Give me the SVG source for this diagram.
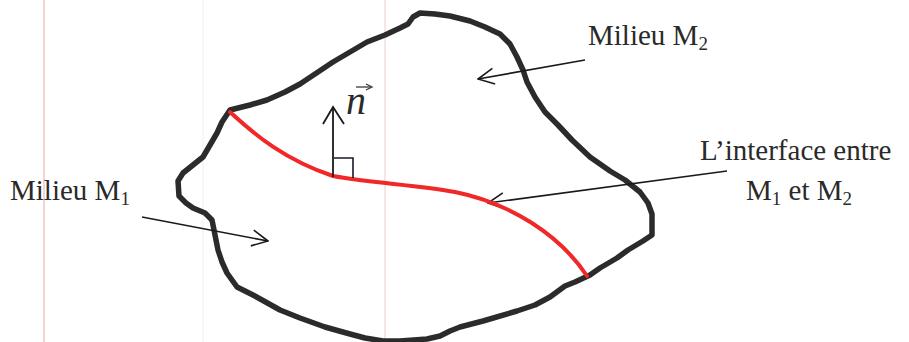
<svg xmlns="http://www.w3.org/2000/svg" width="909" height="342" viewBox="0 0 909 342">
  <style>
    .lbl { font-family: "Liberation Serif", "Times New Roman", serif; font-size: 29px; fill: #2a2a2a; }
    .sub { font-size: 19px; }
    .vec { font-family: "Liberation Serif", "Times New Roman", serif; font-size: 40px; font-style: italic; fill: #2a2a2a; }
    .conn { stroke: #1a1a1a; stroke-width: 1.6; fill: none; }
    .scan { stroke-width: 1; }
  </style>
  <defs>
    <marker id="chev" viewBox="0 0 18 18" refX="17" refY="9" markerWidth="18" markerHeight="18" markerUnits="userSpaceOnUse" orient="auto">
      <path d="M1,1 L17,9 L1,17" fill="none" stroke="#1a1a1a" stroke-width="1.6"/>
    </marker>
  </defs>
  <rect width="909" height="342" fill="#ffffff"/>
  <g id="scan-lines">
    <line class="scan" x1="44" y1="0" x2="44" y2="342" stroke="#e8a8a8"/>
    <line class="scan" x1="203" y1="0" x2="203" y2="342" stroke="#f2eeee"/>
    <line class="scan" x1="385" y1="0" x2="385" y2="342" stroke="#e8cfc8"/>
  </g>
  <g id="domain">
    <path d="M230,110 L250,105 L267,100 L285,92 L300,84 L318,72 L333,62 L350,52 L367,42 L385,35 L400,28 L408,24 L413,17 L420,13 L435,14 L450,16 L470,21 L485,27 L500,34 L510,44 L517,57 L523,70 L527,82 L535,97 L545,112 L558,125 L572,140 L590,157 L610,171 L625,180 L640,192 L648,203 L652,214 L652,235 L643,241 L628,250 L617,258 L600,268 L590,275 L575,282 L565,286 L550,297 L535,305 L517,311 L483,321 L460,327 L450,331 L440,336 L427,339 L400,341 L383,341 L365,338 L350,334 L325,327 L300,318 L280,310 L253,295 L237,287 L227,273 L222,262 L218,250 L215,235 L212,220 L205,213 L193,208 L186,203 L179,196 L178,181 L183,173 L193,165 L203,157 L210,145 L217,133 L222,122 Z" fill="none" stroke="#2b2b2b" stroke-width="5.5" stroke-linejoin="round"/>
  </g>
  <g id="connectors">
    <line class="conn" x1="585" y1="60" x2="478" y2="79" marker-end="url(#chev)"/>
    <line class="conn" x1="142" y1="217" x2="268" y2="241" marker-end="url(#chev)"/>
    <line class="conn" x1="727" y1="171" x2="488" y2="203" marker-end="url(#chev)"/>
  </g>
  <g id="interface">
    <path d="M230,112 C255,135 285,160 333,176 C370,183 420,185 455,192 C510,203 560,235 587,276" fill="none" stroke="#f02828" stroke-width="4" stroke-linecap="round"/>
  </g>
  <g id="normal">
    <line x1="333" y1="177" x2="333" y2="108" stroke="#1a1a1a" stroke-width="1.8"/>
    <polyline points="323,124 333,107 344,124" fill="none" stroke="#1a1a1a" stroke-width="1.8"/>
    <polyline points="334,158 353,158 353,178" fill="none" stroke="#1a1a2a" stroke-width="1.6"/>
    <text class="vec" x="346" y="114">n</text>
    <line x1="356" y1="87" x2="371" y2="87" stroke="#3a3a3a" stroke-width="1.3"/>
    <path d="M366,84 L372,87 L366,90" fill="none" stroke="#3a3a3a" stroke-width="1.3"/>
  </g>
  <g id="label-m2">
    <text class="lbl" x="588" y="45">Milieu M<tspan class="sub" dy="5">2</tspan></text>
  </g>
  <g id="label-m1">
    <text class="lbl" x="10" y="200">Milieu M<tspan class="sub" dy="5">1</tspan></text>
  </g>
  <g id="label-interface">
    <text class="lbl" x="700" y="160">L’interface entre</text>
    <text class="lbl" x="746" y="200">M<tspan class="sub" dy="5">1</tspan><tspan dy="-5"> et M</tspan><tspan class="sub" dy="5">2</tspan></text>
  </g>
</svg>
